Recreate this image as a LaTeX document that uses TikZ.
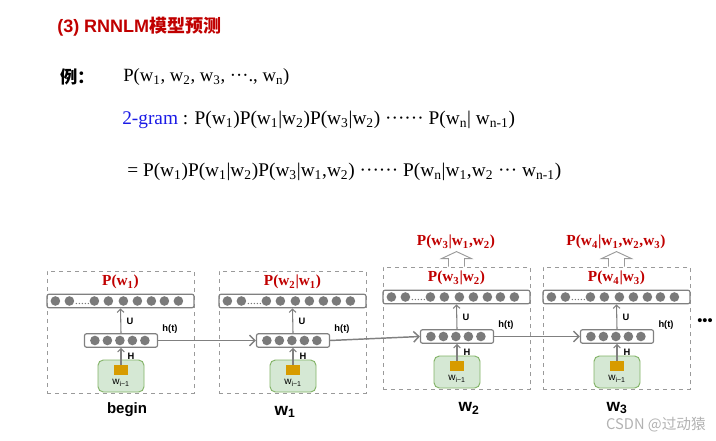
\documentclass[tikz,border=0pt]{standalone}
\usepackage{fontspec}
\setmainfont{Liberation Serif}
\setsansfont{Liberation Sans}
\newfontfamily\cjkfont{Noto Sans CJK SC}
\usetikzlibrary{arrows.meta, calc, positioning}

\definecolor{titlered}{HTML}{C00000}
\definecolor{gramblue}{HTML}{1A1AE6}
\definecolor{linegray}{HTML}{808080}
\definecolor{dotgray}{HTML}{7A7A7A}
\definecolor{framegray}{HTML}{9A9A9A}
\definecolor{infill}{HTML}{D5E8D4}
\definecolor{inedge}{HTML}{82B366}
\definecolor{sqorange}{HTML}{D79B00}

\newcommand{\pxu}{0.75pt}
\newcommand{\wsub}[1]{w\textsubscript{#1}}

\tikzset{
  txt/.style={inner sep=0pt},
  formula/.style={txt, anchor=west, font=\fontsize{14}{16}\selectfont},
  redlab/.style={txt, text=titlered, font=\bfseries\fontsize{11.5}{13}\selectfont},
  smalllab/.style={txt, font=\sffamily\bfseries\fontsize{7}{8}\selectfont},
  framebox/.style={draw=framegray, dashed, line width=0.6pt, minimum width=147*\pxu, minimum height=122*\pxu, inner sep=0pt},
  outbar/.style={draw=linegray, line width=0.9pt, rounded corners=1.5pt, minimum width=147*\pxu, minimum height=13.5*\pxu, inner sep=0pt},
  hidbar/.style={draw=linegray, line width=0.9pt, rounded corners=1.5pt, minimum width=73*\pxu, minimum height=13.5*\pxu, inner sep=0pt},
  inbox/.style={draw=inedge, fill=infill, line width=0.7pt, rounded corners=4pt, minimum width=46*\pxu, minimum height=32*\pxu, inner sep=0pt},
  sqbox/.style={fill=sqorange, minimum width=14*\pxu, minimum height=10*\pxu, inner sep=0pt},
  uparrow/.style={draw=linegray, line width=0.8pt, -{Straight Barb[length=2.5pt, width=5pt]}},
  flow/.style={draw=linegray, line width=1.1pt, -{Straight Barb[length=4pt, width=8pt]}},
  hollow/.style={draw=framegray, fill=white, line width=0.7pt, line join=miter},
  steplab/.style={txt, font=\sffamily\bfseries\fontsize{13}{15}\selectfont}
}

\begin{document}
\begin{tikzpicture}[x=\pxu, y=-\pxu]
  \useasboundingbox (0,0) rectangle (716,441);

  % heading and formulas
  \node[txt, anchor=west, text=titlered, font=\sffamily\bfseries\fontsize{13.5}{15}\selectfont] (title) at (57,27) {(3) RNNLM{\cjkfont\bfseries 模型预测}};
  \node[txt, anchor=west, font=\cjkfont\bfseries\fontsize{13}{15}\selectfont] (example) at (60,77) {例：};
  \node[formula] (joint) at (123,77) {P(\wsub{1}, \wsub{2}, \wsub{3}, ···., \wsub{n})};
  \node[formula, font=\fontsize{14.5}{16}\selectfont] (bigram) at (122,120) {\textcolor{gramblue}{2-gram} : P(\wsub{1})P(\wsub{1}|\wsub{2})P(\wsub{3}|\wsub{2}) ······ P(\wsub{n}| \wsub{n-1})};
  \node[formula, font=\fontsize{14.5}{16}\selectfont] (chain) at (127,172) {= P(\wsub{1})P(\wsub{1}|\wsub{2})P(\wsub{3}|\wsub{1},\wsub{2}) ······ P(\wsub{n}|\wsub{1},\wsub{2} ··· \wsub{n-1})};

  % one frame per time step
  \foreach \L/\T/\lab/\id in {47/271/{P(\wsub{1})}/a, 219/271/{P(\wsub{2}|\wsub{1})}/b, 383/267/{P(\wsub{3}|\wsub{2})}/c, 543/267/{P(\wsub{4}|\wsub{3})}/d}{
    \node[framebox] (frame\id) at (\L+73.5,\T+61) {};
    \node[redlab] (lab\id) at (\L+73.5,\T+11) {\lab};
    \node[outbar] (out\id) at (\L+73.5,\T+30) {};
    \node[hidbar] (hid\id) at (\L+74,\T+69.5) {};
    \node[inbox] (in\id) at (\L+74,\T+105) {};
    \node[sqbox] (sq\id) at (\L+74,\T+99) {};
    \node[txt, font=\sffamily\fontsize{7.5}{8}\selectfont] (word\id) at (\L+74,\T+112) {w\textsubscript{i−1}};
    \foreach \dx in {9,23,48,62,77,91,105,118,132}
      \fill[dotgray] ($(out\id.west)+(\dx,0)$) circle (3.6pt);
    \foreach \dx in {30,33,36,39,42}
      \fill[dotgray] ($(out\id.west)+(\dx,2.5)$) circle (0.5pt);
    \foreach \dx in {11,23.5,36,48.5,61}
      \fill[dotgray] ($(hid\id.west)+(\dx,0)$) circle (3.6pt);
    \draw[uparrow] (sq\id.north) -- (hid\id.south);
    \draw[uparrow] (hid\id.north) -- (out\id.south);
    \node[smalllab] (H\id) at (\L+84,\T+85) {H};
    \node[smalllab] (U\id) at (\L+83,\T+50) {U};
    \node[smalllab] (ht\id) at (\L+123,\T+58) {h(t)};
  }

  % recurrent connections
  \draw[flow] (hida.east) -- (hidb.west);
  \draw[flow] (hidb.east) -- (hidc.west);
  \draw[flow] (hidc.east) -- (hidd.west);

  % full history on top
  \node[redlab] (fullc) at (456,242) {P(\wsub{3}|\wsub{1},\wsub{2})};
  \node[redlab] (fulld) at (616,242) {P(\wsub{4}|\wsub{1},\wsub{2},\wsub{3})};
  \foreach \id in {c,d}
    \draw[hollow] ($(frame\id.north)+(-8,0)$) -- ++(0,-8) -- ++(-7,0) -- ++(15,-7) -- ++(15,7) -- ++(-7,0) -- ++(0,8);

  % step names
  \node[txt, font=\sffamily\bfseries\fontsize{11.25}{13}\selectfont] (begin) at (127,410) {begin};
  \node[steplab] (stepb) at (285,412) {\wsub{1}};
  \node[steplab] (stepc) at (469,408) {\wsub{2}};
  \node[steplab] (stepd) at (617,408) {\wsub{3}};
  \node[txt, font=\sffamily\fontsize{11}{13}\selectfont] (more) at (705,322) {•••};

  \node[txt, text=gray!60, font=\cjkfont\fontsize{11}{13}\selectfont] (mark) at (656,425) {CSDN @过动猿};
\end{tikzpicture}
\end{document}
